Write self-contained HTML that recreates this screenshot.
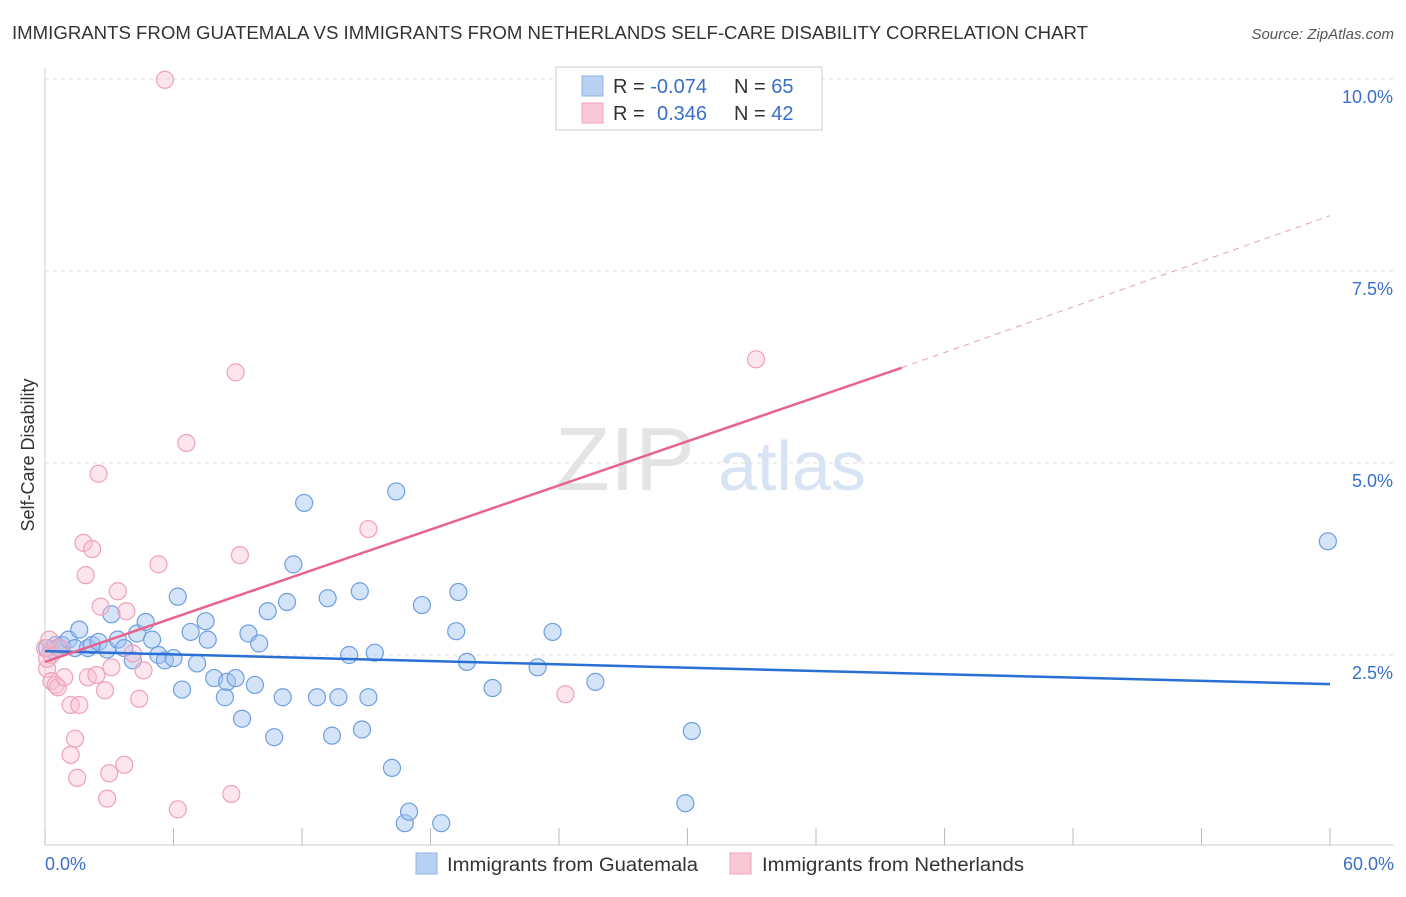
<!DOCTYPE html>
<html><head><meta charset="utf-8"><style>
body{margin:0;background:#fff;font-family:"Liberation Sans",sans-serif;}
svg text{font-family:"Liberation Sans",sans-serif;}
</style></head><body>
<svg id="chart" width="1406" height="892">
<text x="12" y="39" font-size="18" fill="#333" textLength="1076" lengthAdjust="spacingAndGlyphs">IMMIGRANTS FROM GUATEMALA VS IMMIGRANTS FROM NETHERLANDS SELF-CARE DISABILITY CORRELATION CHART</text>
<text x="1394" y="39" font-size="15" fill="#555" text-anchor="end" font-style="italic">Source: ZipAtlas.com</text>
<g id="grid"></g>
<text x="555" y="490" font-size="90" fill="#e4e4e4" font-family="Liberation Serif">ZIP</text>
<text x="718" y="490" font-size="70" fill="#d8e4f4">atlas</text>
<text transform="translate(34,455) rotate(-90)" font-size="18" fill="#333" text-anchor="middle">Self-Care Disability</text>
<g id="pts"></g>
<g id="lines"></g>
<g>
<rect x="556" y="67" width="266" height="63" fill="#fff" stroke="#ccc"/>
<rect x="582" y="76" width="21" height="20" fill="#b8d0f2" stroke="#8fb3e6"/>
<rect x="582" y="103" width="21" height="20" fill="#f8c8d6" stroke="#efa3bb"/>
<text x="613" y="93" font-size="20" fill="#333">R = <tspan fill="#3a6fc9">-0.074</tspan></text>
<text x="734" y="93" font-size="20" fill="#333">N = <tspan fill="#3a6fc9">65</tspan></text>
<text x="613" y="120" font-size="20" fill="#333">R = <tspan fill="#3a6fc9" x="657">0.346</tspan></text>
<text x="734" y="120" font-size="20" fill="#333">N = <tspan fill="#3a6fc9">42</tspan></text>
</g>
<g>
<rect x="416" y="853" width="21" height="21" fill="#b8d0f2" stroke="#8fb3e6"/>
<text x="447" y="871" font-size="19" fill="#333" textLength="251" lengthAdjust="spacingAndGlyphs">Immigrants from Guatemala</text>
<rect x="730" y="853" width="21" height="21" fill="#f8c8d6" stroke="#efa3bb"/>
<text x="762" y="871" font-size="19" fill="#333" textLength="262" lengthAdjust="spacingAndGlyphs">Immigrants from Netherlands</text>
</g>
<text x="45" y="870" font-size="18" fill="#3a6fc9">0.0%</text>
<text x="1394" y="870" font-size="18" fill="#3a6fc9" text-anchor="end">60.0%</text>
</svg>
<script>
const yTicks=[2.5,5.0,7.5,10.0];
const xTicks=[0,6,12,18,24,30,36,42,48,54,60];
const blueX=[0.1,0.3,0.5,0.6,0.8,1.1,1.4,1.6,2.0,2.2,2.5,2.9,3.1,3.4,3.7,4.1,4.3,4.7,5.0,5.3,5.6,6.0,6.2,6.4,6.8,7.1,7.5,7.6,7.9,8.4,8.5,8.9,9.2,9.5,9.8,10.0,10.4,10.7,11.1,11.3,11.6,12.1,12.7,13.2,13.4,13.7,14.2,14.7,14.8,15.1,15.4,16.2,16.4,16.8,17.0,17.6,18.5,19.2,19.3,19.7,20.9,23.0,23.7,25.7,29.9,30.2,59.9];
const blueY=[2.59,2.57,2.63,2.59,2.63,2.70,2.59,2.83,2.59,2.63,2.67,2.57,3.03,2.70,2.59,2.43,2.78,2.93,2.70,2.50,2.43,2.46,3.26,2.05,2.80,2.39,2.94,2.70,2.20,1.95,2.15,2.20,1.67,2.78,2.11,2.65,3.07,1.43,1.95,3.19,3.68,4.48,1.95,3.24,1.45,1.95,2.50,3.33,1.53,1.95,2.53,1.03,4.63,0.31,0.46,3.15,0.31,2.81,3.32,2.41,2.07,2.34,2.80,2.15,0.57,1.51,3.98];
const pinkX=[0.1,0.3,0.5,0.6,0.3,0.7,0.9,1.2,1.2,1.4,1.5,1.6,1.8,1.9,2.0,2.2,2.4,2.5,2.6,2.8,2.9,3.0,3.1,3.4,3.7,3.8,4.1,4.4,4.6,5.3,5.6,6.2,6.6,8.7,8.9,9.1,15.1,24.3,33.2,0.1,0.0,0.2];
const pinkY=[2.32,2.16,2.11,2.08,2.50,2.59,2.21,1.85,1.20,1.41,0.90,1.85,3.96,3.54,2.21,3.88,2.24,4.86,3.13,2.04,0.63,0.96,2.34,3.33,1.07,3.07,2.52,1.93,2.30,3.68,9.99,0.49,5.26,0.69,6.18,3.80,4.14,1.99,6.35,2.45,2.59,2.70];
const blueTrend=[2.55,2.12];
const pinkTrend=[2.41,6.24,8.22];
const X0=45,X1=1330,Y0=847,Y1=79;
const sx=v=>X0+(v/60)*(X1-X0);
const sy=v=>Y0-(v/10)*(Y0-Y1);
const NS='http://www.w3.org/2000/svg';
function mk(t,a,p){const e=document.createElementNS(NS,t);for(const k in a)e.setAttribute(k,a[k]);p.appendChild(e);return e;}
const grid=document.getElementById('grid');
mk('line',{x1:45,y1:68,x2:45,y2:845,stroke:'#ccc'},grid);
mk('line',{x1:45,y1:845,x2:1394,y2:845,stroke:'#ccc'},grid);
yTicks.forEach(t=>{
 const l=mk('line',{x1:45,y1:sy(t),x2:1394,y2:sy(t),stroke:'#ddd','stroke-dasharray':'4,4'},grid);
 
 
 const tx=mk('text',{x:1393,y:sy(t)+24,'font-size':18,fill:'#3a6fc9','text-anchor':'end'},grid);
 tx.textContent=t.toFixed(1)+'%';
 
 
});
xTicks.forEach(t=>{
 const l=mk('line',{x1:sx(t),y1:828,x2:sx(t),y2:845,stroke:'#bbb'},grid);
 
 
});
const pts=document.getElementById('pts');
blueX.forEach((x,i)=>{
 const c=mk('circle',{cx:sx(x),cy:sy(blueY[i]),r:8.5,fill:'rgba(160,196,240,0.45)',stroke:'#6f9ee0','stroke-width':1.2},pts);
 
 
});
pinkX.forEach((x,i)=>{
 const c=mk('circle',{cx:sx(x),cy:sy(pinkY[i]),r:8.5,fill:'rgba(248,190,208,0.4)',stroke:'#f0a0ba','stroke-width':1.2},pts);
 
 
});
const lines=document.getElementById('lines');
const bl=mk('line',{x1:sx(0),y1:sy(blueTrend[0]),x2:sx(60),y2:sy(blueTrend[1]),stroke:'#2a6fd4','stroke-width':2.5},lines);


const pl=mk('line',{x1:sx(0),y1:sy(pinkTrend[0]),x2:sx(40),y2:sy(pinkTrend[1]),stroke:'#e8648e','stroke-width':2.5},lines);


const pd=mk('line',{x1:sx(40),y1:sy(pinkTrend[1]),x2:sx(60),y2:sy(pinkTrend[2]),stroke:'#e8a0b8','stroke-width':1,'stroke-dasharray':'6,5'},lines);


</script>
</body></html>
